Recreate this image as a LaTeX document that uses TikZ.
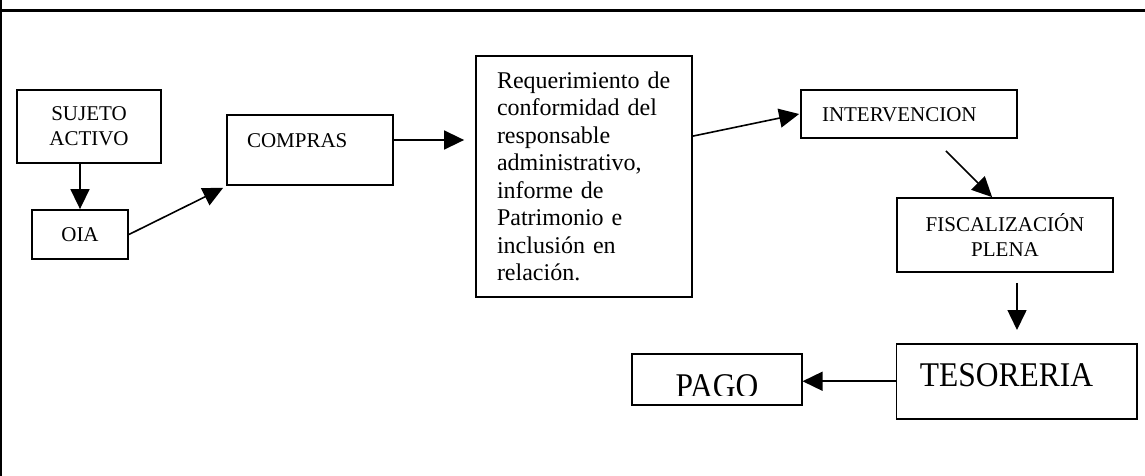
\documentclass[tikz,border=0pt]{standalone}
\usepackage{fontspec}
\usepackage{graphicx}
\setmainfont{Liberation Serif}
\usetikzlibrary{arrows.meta,calc}
\tikzset{
  box/.style={draw, line width=1.8pt, rectangle, inner sep=0pt, font=\fontsize{21}{25}\selectfont},
  bigtext/.style={font=\fontsize{31.5}{36}\selectfont},
  arr/.style={draw, line width=1.6pt, -{Triangle[length=20pt,width=19pt]}},
  frameline/.style={line width=2.7pt}
}
\begin{document}
\begin{tikzpicture}[x=1pt,y=-1pt]
\useasboundingbox (0,0) rectangle (1145,476);
% frame
\draw[frameline] (0,10.3) -- (1145,10.3);
\draw[line width=1.8pt] (0.9,0) -- (0.9,476);
% boxes
\node[box, minimum width=144pt, minimum height=73pt, align=center] (suj) at (89,126.5) {SUJETO\\ACTIVO};
\node[box, minimum width=96pt, minimum height=49pt, text height=31.2pt, text depth=17.8pt] (oia) at (80,234.5) {OIA};
\node[box, minimum width=166pt, minimum height=70pt, text width=126pt, inner xsep=20pt, align=left, text height=32pt, text depth=38pt] (compras) at (310,150) {COMPRAS};
\node[box, minimum width=216pt, minimum height=241pt, text width=174pt, inner xsep=21pt, align=left, font=\fontsize{24}{27.5}\selectfont] (req) at (584,176.5) {Requerimiento de\\conformidad del\\responsable\\administrativo,\\informe de\\Patrimonio e\\inclusión en\\relación.};
\node[box, minimum width=216pt, minimum height=48pt, text width=174pt, inner xsep=21pt, align=left, text height=31.5pt, text depth=16.5pt] (interv) at (909,114) {INTERVENCION};
\node[box, minimum width=216pt, minimum height=74pt, align=center] (fisc) at (1005,235) {FISCALIZACIÓN\\PLENA};
\node[box, bigtext, minimum width=240.5pt, minimum height=74.7pt, text width=193.9pt, inner xsep=23.3pt, align=left, text height=42.1pt, text depth=32.6pt] (tes) at (1016.75,381.25) {\scalebox{1}[1.1]{TESORERIA}};
\node[box, minimum width=169.3pt, minimum height=50.4pt] (pago) at (717,379.5) {};
\begin{scope}
  \clip (pago.north west) rectangle ($(pago.south east)+(0,-10.4)$);
  \node[anchor=base, inner sep=0pt, bigtext] (pagotext) at ($(pago.south)+(0,-8.4)$) {\scalebox{1}[1.1]{PAGO}};
\end{scope}
% connectors
\draw[arr] (oia.north |- suj.south) -- (oia.north);
\draw[arr] (oia.east) -- ($(compras.south west)+(-3,2)$);
\coordinate (c1) at ($(compras.east)+(0,-10)$);
\draw[arr, shorten >=11pt] (c1) -- (c1 -| req.west);
\draw[arr] ($(req.north east)+(0,81)$) -- ($(interv.west)+(-1,0)$);
\draw[arr] ($(interv.south east)+(-72,12)$) -- ($(fisc.north west)+(96,0)$);
\coordinate (c6) at ($(fisc.south)+(12,10)$);
\draw[arr] (c6) -- ($(c6 |- tes.north)+(0,-13)$);
\draw[arr] (tes.west) -- (tes.west -| pago.east);
\end{tikzpicture}
\end{document}
